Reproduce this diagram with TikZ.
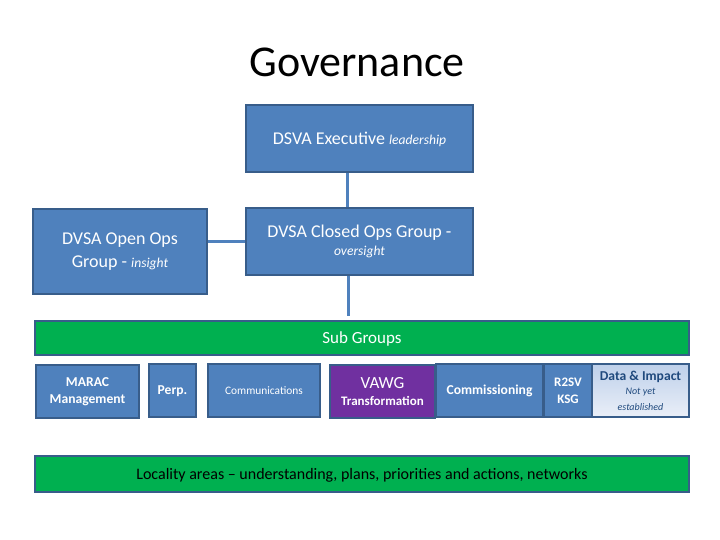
\documentclass[tikz,border=0pt]{standalone}
\usepackage{fontspec}
\setmainfont{Carlito}
\usepackage{tikz}
\usetikzlibrary{positioning}
\definecolor{boxblue}{RGB}{79,129,189}
\definecolor{edgeblue}{RGB}{56,93,138}
\definecolor{bargreen}{RGB}{0,176,80}
\definecolor{vawgpurple}{RGB}{112,48,160}
\definecolor{datatop}{RGB}{190,208,234}
\definecolor{databot}{RGB}{234,239,248}
\definecolor{datatext}{RGB}{31,73,125}
\newcommand{\tagfont}{\mdseries\itshape\fontsize{5}{6.5}\selectfont}
\newcommand{\remark}{\itshape\fontsize{6.8}{8}\selectfont}

\begin{document}
\begin{tikzpicture}[
  x=0.5pt,y=-0.5pt,
  box/.style={draw=edgeblue,line width=1pt,fill=boxblue,text=white,align=center,
              inner sep=0pt,font=\fontsize{9}{11.5}\selectfont},
  bar/.style={draw=edgeblue,line width=1pt,fill=bargreen,inner sep=0pt,
              minimum width=327pt},
  sub/.style={box,minimum height=26.5pt,font=\bfseries\fontsize{6.8}{8.5}\selectfont},
  link/.style={draw=boxblue,line width=1.5pt}
]
\useasboundingbox (0,0) rectangle (720,540);
\node[font=\fontsize{22}{26}\selectfont] (title) at (357,62) {Governance};

% top of the structure
\node[box,minimum width=113.5pt,minimum height=33.5pt,text height=7.5pt] (exec) at (359.5,138.5)
  {DSVA Executive {\remark leadership}};
\node[box,minimum width=87pt,minimum height=42.5pt] (open) at (120,251.5)
  {DVSA Open Ops\\Group - {\remark insight}};
\node[box,minimum width=113.5pt,minimum height=33.5pt] (closed) at (359.5,241.5)
  {DVSA Closed Ops Group -\\[-2.5pt]{\remark oversight}};

% bars
\node[bar,minimum height=17pt,text=white,text height=7pt,font=\fontsize{8.5}{10}\selectfont]
  (subgroups) at (362,338) {Sub Groups};
\node[bar,minimum height=18pt,text height=7pt,font=\fontsize{8}{10}\selectfont]
  (locality) at (362,474)
  {Locality areas -- understanding, plans, priorities and actions, networks};

% sub groups
\node[sub,minimum width=51.5pt] (marac) at (87.5,391.5) {MARAC\\Management};
\node[sub,minimum width=23.5pt] (perp) at (172.5,391) {Perp.};
\node[sub,minimum width=56pt,font=\fontsize{5.7}{7}\selectfont] (comms) at (264,391)
  {Communications};
\node[sub,minimum width=52.5pt,fill=vawgpurple,font=\bfseries\fontsize{6.5}{8.5}\selectfont]
  (vawg) at (382.5,391.5) {{\mdseries\fontsize{8.5}{11}\selectfont VAWG}\\Transformation};
\node[sub,minimum width=53.5pt] (commiss) at (489.5,391) {Commissioning};
\node[sub,minimum width=24pt,font=\bfseries\fontsize{6.5}{8.5}\selectfont] (r2sv) at (568,391)
  {R2SV\\KSG};
\node[sub,minimum width=48.5pt,top color=datatop,bottom color=databot,text=datatext]
  (data) at (640.5,390.5)
  {Data \& Impact\\[-1.5pt]{\tagfont Not yet}\\[-0.5pt]{\tagfont established}};

% connectors
\draw[link] ([xshift=-6pt]exec.south) -- ([xshift=-6pt]closed.north);
\draw[link] (closed.west) -- (closed.west -| open.east);
\draw[link] ([xshift=-5.6pt]closed.south)
  -- ([xshift=-5.6pt,yshift=2pt]closed.south |- subgroups.north);
\end{tikzpicture}
\end{document}
